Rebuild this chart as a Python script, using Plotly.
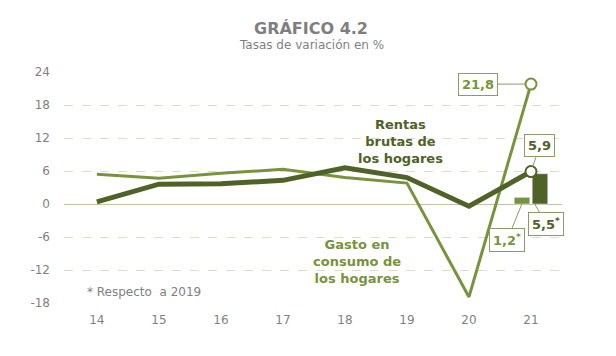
import plotly.graph_objects as go

years = [14, 15, 16, 17, 18, 19, 20, 21]
year_labels = ["14", "15", "16", "17", "18", "19", "20", "21"]
rentas = [0.4, 3.6, 3.7, 4.3, 6.6, 4.8, -0.4, 5.9]
gasto = [5.4, 4.7, 5.6, 6.3, 4.8, 3.8, -16.9, 21.8]
bar_year = [21]
bar_gasto_2019 = [1.2]
bar_rentas_2019 = [5.5]
y_ticks = [-18, -12, -6, 0, 6, 12, 18, 24]
y_tick_labels = ["-18", "-12", "-6", "0", "6", "12", "18", "24"]

DARK = "#4F6228"
LIGHT = "#77933C"
GREY = "#7F7F7F"
FONT = "DejaVu Sans"

fig = go.Figure()

fig.add_trace(go.Bar(x=bar_year, y=bar_gasto_2019, marker_color=LIGHT,
                     offset=-0.27, width=0.25, hoverinfo="skip"))
fig.add_trace(go.Bar(x=bar_year, y=bar_rentas_2019, marker_color=DARK,
                     offset=0.02, width=0.25, hoverinfo="skip"))

fig.add_trace(go.Scatter(x=years, y=gasto, mode="lines", line=dict(color=LIGHT, width=3)))
fig.add_trace(go.Scatter(x=years, y=rentas, mode="lines", line=dict(color=DARK, width=5)))
fig.add_trace(go.Scatter(x=[years[-1]], y=[gasto[-1]], mode="markers",
                         marker=dict(size=11, color="white", line=dict(color=LIGHT, width=2))))
fig.add_trace(go.Scatter(x=[years[-1]], y=[rentas[-1]], mode="markers",
                         marker=dict(size=11, color="white", line=dict(color=DARK, width=2))))

def fmt(v):
    return f"{v:.1f}".replace(".", ",")

box = dict(showarrow=True, arrowhead=0, arrowwidth=1, arrowcolor="#8A9A6A",
           bordercolor="#8A9A6A", borderwidth=1, bgcolor="white", borderpad=3,
           xref="x", yref="y")

fig.add_annotation(x=21, y=gasto[-1], text=f"<b>{fmt(gasto[-1])}</b>", ax=-53, ay=0,
                   font=dict(family=FONT, size=13, color=LIGHT), standoff=6, **box)
fig.add_annotation(x=21, y=rentas[-1], text=f"<b>{fmt(rentas[-1])}</b>", ax=9, ay=-26,
                   font=dict(family=FONT, size=13, color=DARK), standoff=5, **box)
fig.add_annotation(x=20.86, y=0.2, text=f"<b>{fmt(bar_gasto_2019[0])}<sup>*</sup></b>", ax=-15, ay=37,
                   font=dict(family=FONT, size=13, color=LIGHT), **box)
fig.add_annotation(x=21.05, y=0.2, text=f"<b>{fmt(bar_rentas_2019[0])}<sup>*</sup></b>", ax=12, ay=21,
                   font=dict(family=FONT, size=13, color=DARK), **box)

fig.add_annotation(x=18.9, y=11.3, text="<b>Rentas<br>brutas de<br>los hogares</b>", showarrow=False,
                   font=dict(family=FONT, size=13, color=DARK), align="center")
fig.add_annotation(x=18.2, y=-10.5, text="<b>Gasto en<br>consumo de<br>los hogares</b>", showarrow=False,
                   font=dict(family=FONT, size=13, color=LIGHT), align="center")
fig.add_annotation(x=13.81, y=-16.0, text="* Respecto  a 2019", showarrow=False, xanchor="left",
                   font=dict(family=FONT, size=12, color=GREY))

fig.add_annotation(x=0.496, y=1, xref="paper", yref="paper", yanchor="middle", yshift=44,
                   text="<b>GRÁFICO 4.2</b>", showarrow=False,
                   font=dict(family=FONT, size=16, color=GREY))
fig.add_annotation(x=0.496, y=1, xref="paper", yref="paper", yanchor="middle", yshift=27,
                   text="Tasas de variación en %", showarrow=False,
                   font=dict(family=FONT, size=12, color=GREY))

fig.update_layout(
    width=608, height=348,
    margin=dict(l=56, r=54, t=64, b=53),
    paper_bgcolor="white", plot_bgcolor="white",
    showlegend=False,
    barmode="overlay",
    xaxis=dict(range=[13.47, 21.5], tickmode="array", tickvals=years, ticktext=year_labels,
               showgrid=False, zeroline=False, showline=False, ticks="",
               tickfont=dict(family=FONT, size=12, color=GREY), ticklabelstandoff=8),
    yaxis=dict(range=[-18, 24], tickmode="array", tickvals=y_ticks, ticktext=y_tick_labels,
               showgrid=True, gridcolor="#DEDEC8", griddash="dash", gridwidth=1,
               zeroline=True, zerolinecolor="#C2C2A6", zerolinewidth=1,
               showline=False, ticks="", ticklabelstandoff=13,
               tickfont=dict(family=FONT, size=12, color=GREY)),
)

fig.write_html("out.html")
